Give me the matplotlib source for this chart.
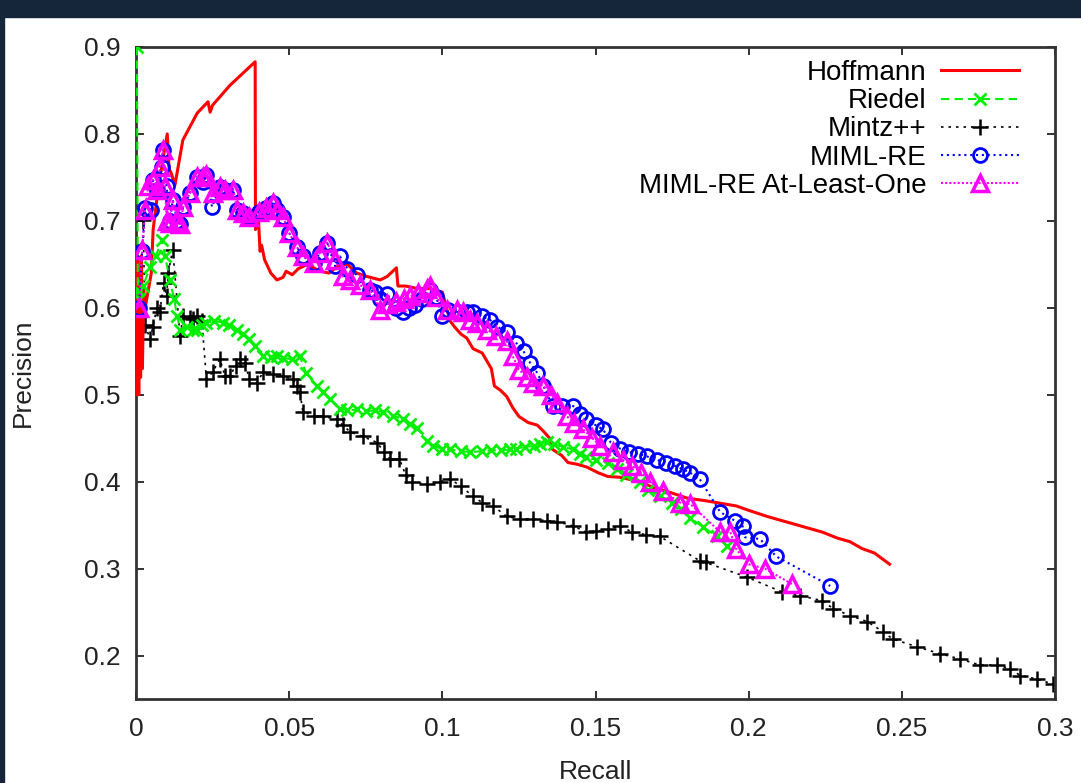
import matplotlib
matplotlib.use("Agg")
import matplotlib.pyplot as plt
from matplotlib.patches import Rectangle

plt.rcParams['font.family'] = ['Liberation Sans', 'DejaVu Sans']

# Hoffmann (solid red)
hoff_x = [0.0003, 0.0006, 0.0009, 0.0012, 0.0015, 0.0018, 0.0021, 0.0025, 0.003, 0.004, 0.005, 0.0056,
          0.007, 0.0085, 0.0102, 0.0108, 0.0115, 0.0127, 0.0153, 0.020, 0.0235, 0.0242, 0.025, 0.0307,
          0.0389, 0.0390, 0.040, 0.0405, 0.041, 0.042, 0.044, 0.046, 0.048, 0.049, 0.051, 0.053, 0.056,
          0.060, 0.063, 0.066, 0.069, 0.072, 0.0754, 0.0797, 0.082, 0.085, 0.0855, 0.088, 0.092, 0.096,
          0.100, 0.1025, 0.104, 0.106, 0.108, 0.110, 0.113, 0.116, 0.117, 0.119, 0.121, 0.123, 0.125,
          0.128, 0.131, 0.133, 0.135, 0.136, 0.139, 0.141, 0.144, 0.147, 0.151, 0.154, 0.158, 0.1645,
          0.169, 0.174, 0.180, 0.186, 0.191, 0.196, 0.200, 0.206, 0.211, 0.217, 0.224, 0.229, 0.233,
          0.237, 0.241, 0.246]
hoff_y = [0.50, 0.66, 0.50, 0.64, 0.52, 0.66, 0.53, 0.62, 0.60, 0.62, 0.64, 0.69,
          0.73, 0.765, 0.80, 0.76, 0.755, 0.741, 0.793, 0.824, 0.837, 0.825, 0.833, 0.856,
          0.883, 0.69, 0.70, 0.665, 0.672, 0.655, 0.64, 0.632, 0.635, 0.642, 0.638, 0.645, 0.650,
          0.642, 0.640, 0.648, 0.650, 0.640, 0.636, 0.632, 0.636, 0.646, 0.625, 0.625, 0.622, 0.622,
          0.618, 0.585, 0.578, 0.570, 0.565, 0.553, 0.548, 0.530, 0.510, 0.505, 0.498, 0.485, 0.475,
          0.468, 0.465, 0.458, 0.450, 0.437, 0.430, 0.422, 0.420, 0.417, 0.410, 0.406, 0.405, 0.400,
          0.393, 0.388, 0.381, 0.378, 0.375, 0.372, 0.367, 0.360, 0.355, 0.349, 0.342, 0.335, 0.331,
          0.323, 0.318, 0.305]

# Riedel (green dashed, x)
riedel_x = [0.0003, 0.0006, 0.0010, 0.0023, 0.0046, 0.0065, 0.0085, 0.0095, 0.0110, 0.0125, 0.0134,
            0.0145, 0.0165, 0.0185, 0.020, 0.0215, 0.023, 0.0255, 0.0284, 0.0305, 0.033, 0.035, 0.037,
            0.039, 0.0415, 0.044, 0.046, 0.048, 0.051, 0.0535, 0.0555, 0.059, 0.061, 0.0633, 0.0666,
            0.069, 0.072, 0.075, 0.078, 0.0806, 0.084, 0.087, 0.0895, 0.0917, 0.095, 0.097, 0.100,
            0.1025, 0.106, 0.109, 0.113, 0.116, 0.119, 0.122, 0.124, 0.127, 0.130, 0.132, 0.134,
            0.1365, 0.1395, 0.1427, 0.145, 0.147, 0.150, 0.154, 0.157, 0.160, 0.1645, 0.167, 0.171,
            0.175, 0.178, 0.181, 0.185, 0.1897, 0.193]
riedel_y = [0.90, 0.62, 0.61, 0.625, 0.647, 0.66, 0.678, 0.66, 0.632, 0.61, 0.59,
            0.575, 0.578, 0.575, 0.575, 0.58, 0.583, 0.585, 0.583, 0.58, 0.575, 0.57, 0.564,
            0.556, 0.545, 0.543, 0.544, 0.542, 0.541, 0.544, 0.525, 0.51, 0.503, 0.495, 0.484,
            0.482, 0.483, 0.481, 0.482, 0.48, 0.476, 0.472, 0.466, 0.462, 0.447, 0.441, 0.438,
            0.437, 0.435, 0.434, 0.435, 0.436, 0.436, 0.437, 0.438, 0.44, 0.441, 0.443, 0.446,
            0.443, 0.44, 0.437, 0.432, 0.428, 0.425, 0.421, 0.414, 0.408, 0.40, 0.39, 0.384,
            0.376, 0.369, 0.358, 0.348, 0.337, 0.326]

# Mintz++ (black dotted, +)
mintz_x = [0.0023, 0.003, 0.0046, 0.0055, 0.0068, 0.0078, 0.009, 0.010, 0.0105, 0.012, 0.0144,
           0.0153, 0.0175, 0.0186, 0.020, 0.0215, 0.023, 0.025, 0.0274, 0.029, 0.0307, 0.0325,
           0.034, 0.0355, 0.037, 0.0395, 0.0415, 0.0447, 0.048, 0.0513, 0.0525, 0.0535, 0.0545,
           0.058, 0.061, 0.0656, 0.0675, 0.070, 0.074, 0.0787, 0.081, 0.083, 0.086, 0.088, 0.090,
           0.095, 0.0993, 0.1025, 0.106, 0.110, 0.113, 0.1166, 0.121, 0.1254, 0.1296, 0.134,
           0.1375, 0.1427, 0.147, 0.150, 0.154, 0.158, 0.162, 0.1665, 0.171, 0.184, 0.186, 0.1995,
           0.211, 0.2168, 0.224, 0.2276, 0.233, 0.2387, 0.244, 0.247, 0.255, 0.2625, 0.269,
           0.2755, 0.281, 0.2853, 0.2886, 0.294, 0.2994]
mintz_y = [0.701, 0.58, 0.564, 0.578, 0.60, 0.595, 0.629, 0.613, 0.64, 0.667, 0.567,
           0.59, 0.588, 0.587, 0.59, 0.585, 0.518, 0.526, 0.541, 0.522, 0.522, 0.533,
           0.541, 0.537, 0.518, 0.514, 0.526, 0.524, 0.521, 0.518, 0.51, 0.503, 0.48,
           0.476, 0.475, 0.472, 0.465, 0.457, 0.452, 0.445, 0.434, 0.426, 0.426, 0.408, 0.40,
           0.397, 0.40, 0.403, 0.395, 0.383, 0.376, 0.372, 0.36, 0.357, 0.357, 0.355,
           0.354, 0.349, 0.342, 0.343, 0.345, 0.349, 0.342, 0.339, 0.337, 0.309, 0.307, 0.29,
           0.273, 0.269, 0.263, 0.254, 0.246, 0.239, 0.227, 0.219, 0.21, 0.202, 0.196,
           0.189, 0.189, 0.185, 0.177, 0.173, 0.167]

# MIML-RE (blue dotted, circles)
miml_x = [0.001, 0.002, 0.003, 0.005, 0.0056, 0.007, 0.0085, 0.0088, 0.010, 0.011, 0.012, 0.0135,
          0.0144, 0.0154, 0.0176, 0.020, 0.022, 0.023, 0.0248, 0.0274, 0.029, 0.0317, 0.033, 0.035,
          0.037, 0.040, 0.0425, 0.0447, 0.046, 0.048, 0.050, 0.0525, 0.0545, 0.058, 0.060, 0.0624,
          0.065, 0.0666, 0.069, 0.072, 0.0764, 0.078, 0.0797, 0.082, 0.085, 0.087, 0.089, 0.091,
          0.0935, 0.096, 0.098, 0.100, 0.102, 0.105, 0.108, 0.110, 0.113, 0.1156, 0.118, 0.121,
          0.124, 0.1265, 0.1286, 0.131, 0.133, 0.136, 0.139, 0.1427, 0.145, 0.147, 0.150, 0.1525,
          0.155, 0.158, 0.161, 0.164, 0.1668, 0.170, 0.173, 0.176, 0.1786, 0.181, 0.184, 0.1907,
          0.1955, 0.198, 0.1988, 0.2037, 0.209, 0.2266]
miml_y = [0.60, 0.665, 0.715, 0.713, 0.747, 0.736, 0.762, 0.782, 0.74, 0.70, 0.724, 0.70,
          0.696, 0.716, 0.732, 0.751, 0.745, 0.753, 0.716, 0.739, 0.735, 0.736, 0.713, 0.709,
          0.705, 0.71, 0.715, 0.72, 0.712, 0.705, 0.686, 0.67, 0.659, 0.652, 0.663, 0.675,
          0.648, 0.659, 0.645, 0.638, 0.621, 0.618, 0.61, 0.616, 0.60, 0.595, 0.60, 0.603,
          0.61, 0.62, 0.612, 0.59, 0.598, 0.595, 0.595, 0.595, 0.59, 0.586, 0.578, 0.572,
          0.56, 0.55, 0.537, 0.525, 0.51, 0.487, 0.487, 0.487, 0.478, 0.472, 0.465, 0.46,
          0.445, 0.438, 0.434, 0.432, 0.429, 0.425, 0.422, 0.418, 0.414, 0.41, 0.403, 0.365,
          0.355, 0.349, 0.336, 0.334, 0.314, 0.28]

# MIML-RE At-Least-One (magenta dotted, triangles)
alo_x = [0.001, 0.002, 0.003, 0.004, 0.0056, 0.007, 0.0078, 0.0088, 0.0095, 0.010, 0.011, 0.012,
         0.0135, 0.0144, 0.0154, 0.0176, 0.020, 0.022, 0.023, 0.025, 0.0274, 0.029, 0.0317, 0.033,
         0.035, 0.037, 0.040, 0.0425, 0.0447, 0.046, 0.048, 0.050, 0.0525, 0.0545, 0.058, 0.060,
         0.0624, 0.065, 0.0676, 0.070, 0.073, 0.0764, 0.0797, 0.082, 0.085, 0.0875, 0.0895, 0.092,
         0.095, 0.096, 0.098, 0.1015, 0.1048, 0.1068, 0.109, 0.1113, 0.1146, 0.1175, 0.121, 0.123,
         0.125, 0.1275, 0.1296, 0.133, 0.1355, 0.1375, 0.1407, 0.143, 0.146, 0.149, 0.1515, 0.1557,
         0.159, 0.162, 0.165, 0.1678, 0.172, 0.1776, 0.181, 0.1907, 0.194, 0.196, 0.200, 0.2053,
         0.2142]
alo_y = [0.60, 0.667, 0.713, 0.74, 0.747, 0.736, 0.762, 0.782, 0.74, 0.70, 0.698, 0.724,
         0.70, 0.696, 0.716, 0.732, 0.751, 0.75, 0.753, 0.732, 0.739, 0.735, 0.736, 0.713,
         0.709, 0.705, 0.71, 0.715, 0.72, 0.712, 0.705, 0.686, 0.67, 0.659, 0.652, 0.663,
         0.675, 0.655, 0.636, 0.632, 0.626, 0.621, 0.598, 0.604, 0.607, 0.61, 0.613, 0.617,
         0.622, 0.625, 0.612, 0.598, 0.598, 0.595, 0.586, 0.583, 0.575, 0.568, 0.562, 0.544,
         0.529, 0.52, 0.514, 0.51, 0.50, 0.491, 0.475, 0.468, 0.46, 0.45, 0.441, 0.434,
         0.425, 0.418, 0.41, 0.40, 0.389, 0.376, 0.374, 0.342, 0.342, 0.322, 0.305, 0.30,
         0.282]

x_ticks = [0, 0.05, 0.1, 0.15, 0.2, 0.25, 0.3]
x_tick_labels = ['0', '0.05', '0.1', '0.15', '0.2', '0.25', '0.3']
y_ticks = [0.2, 0.3, 0.4, 0.5, 0.6, 0.7, 0.8, 0.9]

fig = plt.figure(figsize=(10.81, 7.83), dpi=100)
# dark screenshot border
fig.patches.append(Rectangle((0, 1 - 17 / 783), 1, 17 / 783, transform=fig.transFigure,
                             color='#15263b', zorder=-5))
fig.patches.append(Rectangle((0, 0), 4 / 1081, 1, transform=fig.transFigure,
                             color='#15263b', zorder=-5))

ax = fig.add_axes([0.1258, 0.1073, 0.8502, 0.8327])

ax.plot(hoff_x, hoff_y, color='#ff0000', lw=2.2, label='Hoffmann', zorder=3)
ax.plot(riedel_x, riedel_y, color='#00ee00', lw=1.5, ls=(0, (4, 2.5)), marker='x',
        ms=9, mew=2, label='Riedel', zorder=4)
ax.plot(mintz_x, mintz_y, color='black', lw=1.2, ls=(0, (1.5, 3)), marker='+',
        ms=11, mew=1.8, label='Mintz++', zorder=2)
ax.plot(miml_x, miml_y, color='#0000ff', lw=1.5, ls=(0, (1, 1.8)), marker='o',
        ms=10, mew=2, mfc='none', label='MIML-RE', zorder=5)
ax.plot(alo_x, alo_y, color='#ff00ff', lw=1.5, ls=(0, (1, 1)), marker='^',
        ms=11, mew=2.5, mfc='none', label='MIML-RE At-Least-One', zorder=6)

ax.set_xlim(0, 0.3)
ax.set_ylim(0.15, 0.9)
ax.set_xticks(x_ticks)
ax.set_xticklabels(x_tick_labels)
ax.set_yticks(y_ticks)
ax.tick_params(direction='in', top=True, right=True, length=6, width=1.3,
               labelsize=19, colors='#222222', pad=11)
ax.tick_params(axis='x', pad=13)
for s in ax.spines.values():
    s.set_linewidth(2)
    s.set_color('#333333')

ax.set_xlabel('Recall', fontsize=19, color='#222222')
ax.set_ylabel('Precision', fontsize=19, color='#222222')
ax.xaxis.set_label_coords(0.5, -0.093)
ax.yaxis.set_label_coords(-0.110, 0.5)

ax.legend(loc='upper right', bbox_to_anchor=(0.961, 0.98), frameon=False,
          markerfirst=False, fontsize=20, labelspacing=0.08, handlelength=2.8,
          handletextpad=0.55, borderpad=0, borderaxespad=0)

fig.savefig('out.png', dpi=100)
